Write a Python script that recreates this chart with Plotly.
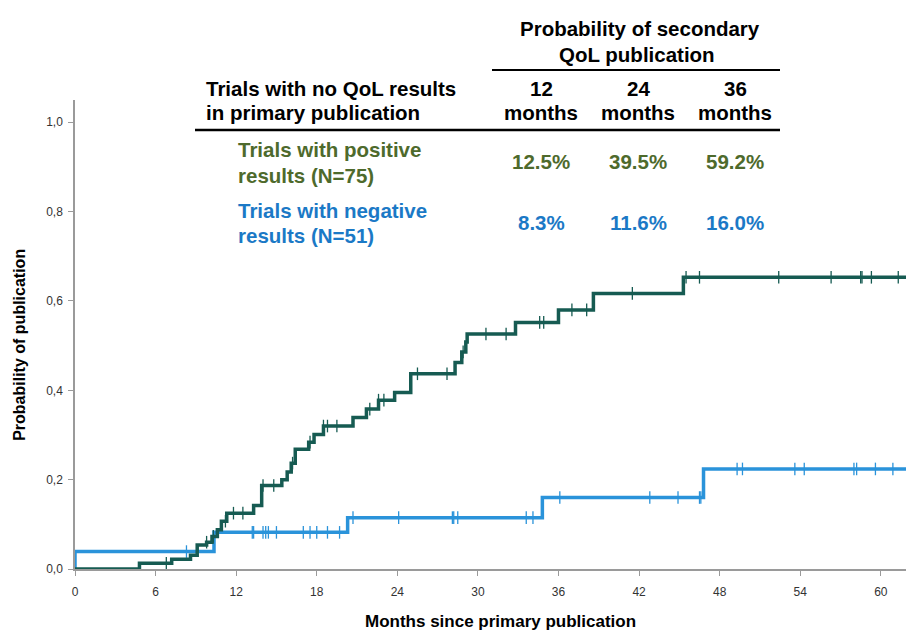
import numpy as np
import plotly.graph_objects as go

# ---------------- data ----------------
pos_step_t = [0, 4.8, 7.2, 8.6, 9.1, 9.8, 10.2, 10.6, 10.9, 11.3, 13.3, 13.9, 15.4, 15.8, 16.1,
              16.4, 17.4, 17.8, 18.5, 20.7, 21.7, 22.6, 23.8, 25.0, 28.3, 28.8, 29.1, 29.2,
              32.8, 36.0, 38.6, 45.3, 62.5]
pos_step_v = [0.0, 0.013, 0.022, 0.031, 0.054, 0.060, 0.073, 0.088, 0.107, 0.125, 0.142, 0.187,
              0.200, 0.217, 0.237, 0.268, 0.284, 0.301, 0.320, 0.339, 0.358, 0.378, 0.395,
              0.437, 0.462, 0.486, 0.508, 0.526, 0.552, 0.580, 0.617, 0.653, 0.653]
pos_censor_t = [6.8, 9.8, 10.3, 11.2, 11.8, 12.5, 14.0, 14.8, 16.2, 17.5, 18.5, 18.8, 19.5, 21.95,
                22.6, 23.0, 25.5, 27.7, 28.9, 30.6, 32.1, 34.6, 34.9, 37.0, 38.1, 41.5, 45.5,
                46.5, 52.4, 56.3, 58.5, 58.6, 59.3, 61.3]

neg_step_t = [0, 0, 10.35, 20.3, 34.8, 46.8, 62.5]
neg_step_v = [0.0, 0.039, 0.082, 0.115, 0.160, 0.224, 0.224]
neg_censor_t = [8.3, 13.2, 13.3, 14.0, 14.2, 14.4, 15.0, 17.0, 17.5, 18.0, 18.8, 19.7, 20.7,
                24.1, 28.1, 28.2, 28.5, 33.6, 34.1, 36.1, 42.8, 44.9, 46.5, 46.6, 49.3, 49.7,
                53.6, 54.3, 58.0, 58.2, 59.6, 60.9]

x_ticks = [0, 6, 12, 18, 24, 30, 36, 42, 48, 54, 60]
y_ticks = [0.0, 0.2, 0.4, 0.6, 0.8, 1.0]

table_cols = ["12", "24", "36"]
pos_pct = ["12.5%", "39.5%", "59.2%"]
neg_pct = ["8.3%", "11.6%", "16.0%"]

# ---------------- styling ----------------
OFF = 8  # page body margin of the html page
W, H = 914 - OFF, 633 - OFF
L, R, T, B = 75 - OFF, 0, 100 - OFF, H - (569.3 - OFF)
PW, PH = W - L - R, H - T - B
GREEN_LINE = "#165b52"
BLUE_LINE = "#2a93da"
GREEN_TXT = "#4e6a2c"
BLUE_TXT = "#1b79c6"
FONT = "Liberation Sans, Arial, sans-serif"
TS = 20.5


def step_val(ts, vs, t):
    ts = np.asarray(ts); vs = np.asarray(vs)
    idx = np.searchsorted(ts, t, side="right") - 1
    return vs[idx]


def px(X, Y):
    # screen pixel -> paper coords
    return (X - OFF - L) / PW, (H - B - (Y - OFF)) / PH


fig = go.Figure()
for ts, vs, cts, col in [(neg_step_t, neg_step_v, neg_censor_t, BLUE_LINE),
                         (pos_step_t, pos_step_v, pos_censor_t, GREEN_LINE)]:
    fig.add_trace(go.Scatter(x=ts, y=vs, mode="lines", line=dict(color=col, width=3.5, shape="hv"),
                             showlegend=False, hoverinfo="skip", cliponaxis=False))
    fig.add_trace(go.Scatter(x=cts, y=[step_val(ts, vs, c) for c in cts], mode="markers",
                             marker=dict(symbol="line-ns", size=9, line=dict(color=col, width=1.3)),
                             showlegend=False, hoverinfo="skip"))

annotations = []


def txt(X, Y, s, color="black", size=TS, anchor="left"):
    x, y = px(X, Y)
    annotations.append(dict(x=x, y=y, xref="paper", yref="paper", text=f"<b>{s}</b>",
                            showarrow=False, xanchor=anchor, yanchor="middle",
                            font=dict(family=FONT, size=size, color=color)))


txt(640, 28, "Probability of secondary", anchor="center")
txt(637, 54, "QoL publication", anchor="center")
txt(204, 88, "Trials with no QoL results")
txt(204, 113, "in primary publication")
col_x = [541, 638, 735]
for cx, c in zip(col_x, table_cols):
    txt(cx, 88, c, anchor="center")
    txt(cx, 113, "months", anchor="center")
txt(236, 150, "Trials with positive", GREEN_TXT)
txt(236, 176, "results (N=75)", GREEN_TXT)
txt(236, 211, "Trials with negative", BLUE_TXT)
txt(236, 236, "results (N=51)", BLUE_TXT)
for cx, p, n in zip(col_x, pos_pct, neg_pct):
    txt(cx, 162, p, GREEN_TXT, anchor="center")
    txt(cx, 223, n, BLUE_TXT, anchor="center")

# axis titles
txt(500, 622, "Months since primary publication", size=17, anchor="center")
xa, ya = px(20, 345)
annotations.append(dict(x=xa, y=ya, xref="paper", yref="paper", text="<b>Probability of publication</b>",
                        showarrow=False, textangle=-90, xanchor="center", yanchor="middle",
                        font=dict(family=FONT, size=16, color="black")))

shapes = []
for X0, X1, Y, w in [(492, 780, 70, 2), (195, 780, 130, 2.5)]:
    x0, y0 = px(X0, Y)
    x1, _ = px(X1, Y)
    shapes.append(dict(type="line", xref="paper", yref="paper", x0=x0, x1=x1, y0=y0, y1=y0,
                       line=dict(color="black", width=w)))

fig.update_layout(
    width=W, height=H, margin=dict(l=L, r=R, t=T, b=B, autoexpand=False),
    paper_bgcolor="white", plot_bgcolor="white",
    separators=",.",
    font=dict(family=FONT, size=12, color="#333333"),
    annotations=annotations, shapes=shapes,
    xaxis=dict(range=[0, PW / 13.43], tickvals=x_ticks, showgrid=False, zeroline=False,
               automargin=False, ticklabelstandoff=6,
               showline=True, linecolor="#9a9a9a", linewidth=1.5, ticks="outside", ticklen=5,
               tickcolor="#9a9a9a", tickfont=dict(size=12, color="#333333")),
    yaxis=dict(range=[0, PH / 447.0], tickvals=y_ticks, tickformat=".1f", showgrid=False,
               automargin=False, ticklabelstandoff=3,
               zeroline=False, showline=True, linecolor="#9a9a9a", linewidth=1.5, ticks="outside",
               ticklen=5, tickcolor="#9a9a9a", tickfont=dict(size=12, color="#333333")),
)

fig.write_html("out.html")
